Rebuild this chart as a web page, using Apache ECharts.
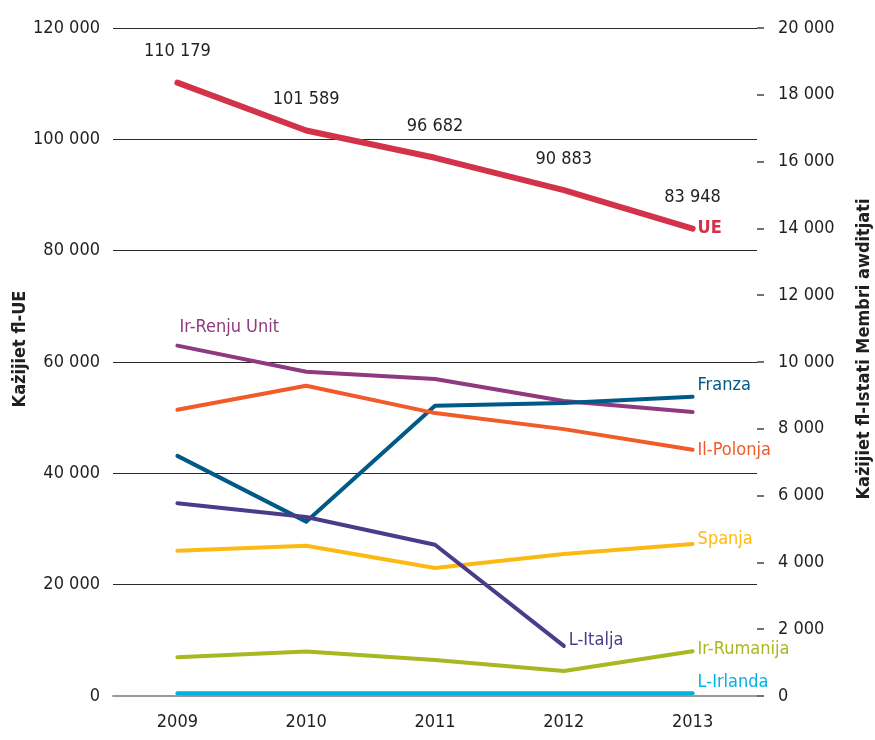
<!DOCTYPE html>
<html>
<head>
<meta charset="utf-8">
<script src="https://cdn.jsdelivr.net/npm/echarts@6/dist/echarts.min.js"></script>
<style>html,body{margin:0;padding:0;background:#fff}#c{width:875px;height:740px}</style>
</head>
<body>
<div id="c"></div>
<script>
var years = ['2009', '2010', '2011', '2012', '2013'];
var leftTicks = [0, 20000, 40000, 60000, 80000, 100000, 120000];
var rightTicks = [0, 2000, 4000, 6000, 8000, 10000, 12000, 14000, 16000, 18000, 20000];
var ue = [110179, 101589, 96682, 90883, 83948];
var renjuUnit = [10490, 9710, 9490, 8830, 8500];
var polonja = [8570, 9290, 8470, 7990, 7370];
var franza = [7190, 5220, 8690, 8770, 8960];
var italja = [5770, 5360, 4530, 1500];
var spanja = [4350, 4500, 3830, 4250, 4550];
var rumanija = [1160, 1330, 1080, 750, 1340];
var irlanda = [80, 80, 80, 80, 80];

var FONT = "'Liberation Sans Narrow', 'DejaVu Sans Condensed', sans-serif";
var FS = 18;
function fmt(v) { return String(v).replace(/\B(?=(\d{3})+(?!\d))/g, ' '); }

function countrySeries(name, data, color, labelOffset) {
  return {
    name: name, type: 'line', yAxisIndex: 1, data: data,
    symbol: 'none', smooth: false,
    lineStyle: { color: color, width: 4, cap: 'round', join: 'round' },
    endLabel: { show: true, formatter: name, color: color, fontFamily: FONT, fontSize: FS,
      distance: 5, offset: labelOffset || [0, 0] }
  };
}

var series = [
  {
    name: 'UE', type: 'line', yAxisIndex: 0, data: ue, z: 5,
    symbol: 'circle', symbolSize: 0.01, showSymbol: true, itemStyle: { color: '#d2334a' },
    lineStyle: { color: '#d2334a', width: 6, cap: 'round', join: 'round' },
    label: { show: true, position: 'top', distance: 22, color: '#231f20', fontFamily: FONT, fontSize: FS,
      formatter: function (p) { return fmt(p.value); } },
    endLabel: { show: true, formatter: 'UE', color: '#d2334a', fontFamily: FONT, fontSize: FS, fontWeight: 'bold', distance: 5 }
  },
  {
    name: 'Ir-Renju Unit', type: 'line', yAxisIndex: 1,
    symbol: 'circle', symbolSize: 0.01, showSymbol: true, itemStyle: { color: '#8e3a80' },
    data: renjuUnit.map(function (v, i) {
      return i === 0 ? { value: v, label: { show: true, position: 'top', align: 'left', offset: [2, -9], formatter: 'Ir-Renju Unit',
        color: '#8e3a80', fontFamily: FONT, fontSize: FS, distance: 0 } } : v;
    }),
    lineStyle: { color: '#8e3a80', width: 4, cap: 'round', join: 'round' }
  },
  countrySeries('Franza', franza, '#005a87', [0, -11]),
  countrySeries('Il-Polonja', polonja, '#f15a29', [0, 0]),
  countrySeries('Spanja', spanja, '#fdb913', [0, -5]),
  countrySeries('L-Italja', italja, '#4b3b8b', [0, -6]),
  countrySeries('Ir-Rumanija', rumanija, '#a8b820', [0, -2]),
  countrySeries('L-Irlanda', irlanda, '#00b1e2', [0, -11])
];

var chart = echarts.init(document.getElementById('c'), null, { renderer: 'canvas' });
chart.setOption({
  animation: false,
  backgroundColor: '#ffffff',
  textStyle: { fontFamily: FONT },
  grid: { left: 113, right: 118, top: 28, bottom: 44, containLabel: false },
  xAxis: {
    type: 'category', data: years, boundaryGap: true,
    axisLine: { show: true, lineStyle: { color: '#9a9a9a', width: 2 } },
    axisTick: { show: false },
    axisLabel: { color: '#231f20', fontFamily: FONT, fontSize: FS, margin: 17 }
  },
  yAxis: [
    {
      type: 'value', min: leftTicks[0], max: leftTicks[leftTicks.length - 1], interval: leftTicks[1] - leftTicks[0],
      position: 'left',
      axisLine: { show: false }, axisTick: { show: false },
      axisLabel: { color: '#231f20', fontFamily: FONT, fontSize: FS, margin: 13, padding: [0, 0, 8, 0], formatter: fmt },
      splitLine: { show: true, lineStyle: { color: ['#9a9a9a', '#2a2a2a', '#2a2a2a', '#2a2a2a', '#2a2a2a', '#2a2a2a', '#2a2a2a'], width: 1 } }
    },
    {
      type: 'value', min: rightTicks[0], max: rightTicks[rightTicks.length - 1], interval: rightTicks[1] - rightTicks[0],
      position: 'right',
      axisLine: { show: false },
      axisTick: { show: true, inside: false, length: 7, lineStyle: { color: '#444', width: 1.5 } },
      axisLabel: { color: '#231f20', fontFamily: FONT, fontSize: FS, margin: 21, padding: [0, 0, 12, 0], formatter: fmt },
      splitLine: { show: false }
    }
  ],
  graphic: [
    { type: 'text', x: 20, y: 349, rotation: Math.PI / 2,
      style: { text: 'Każijiet fl-UE', fill: '#231f20', font: 'bold 18px ' + FONT, align: 'center', verticalAlign: 'middle' } },
    { type: 'text', x: 864, y: 349, rotation: Math.PI / 2,
      style: { text: 'Każijiet fl-Istati Membri awditjati', fill: '#231f20', font: 'bold 18px ' + FONT,
        align: 'center', verticalAlign: 'middle' } }
  ],
  series: series
});
</script>
</body>
</html>
